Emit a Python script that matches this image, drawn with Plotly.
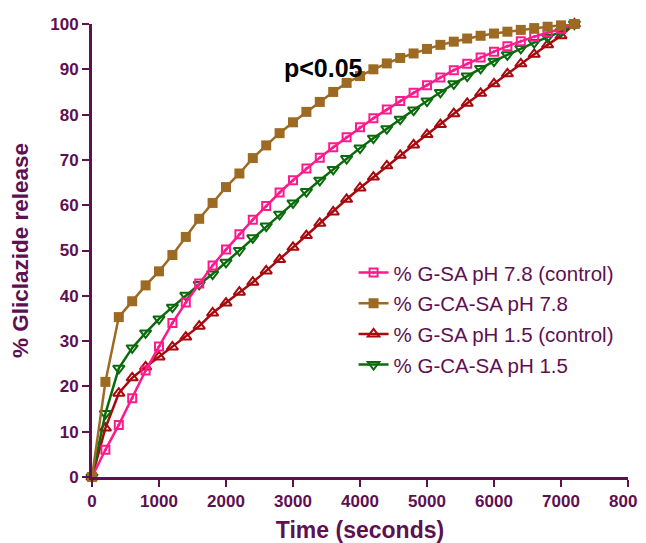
import plotly.graph_objects as go

time_s = [0, 200, 400, 600, 800, 1000, 1200, 1400, 1600, 1800, 2000, 2200, 2400, 2600,
          2800, 3000, 3200, 3400, 3600, 3800, 4000, 4200, 4400, 4600, 4800, 5000,
          5200, 5400, 5600, 5800, 6000, 6200, 6400, 6600, 6800, 7000, 7200]

g_sa_78 = [0, 6, 11.5, 17.4, 23.5, 28.8, 34, 38.5, 42.7, 46.7, 50.2, 53.6, 56.8, 59.8,
           62.8, 65.5, 68.1, 70.5, 72.8, 75, 77.2, 79.2, 81.1, 83, 84.8, 86.5,
           88.2, 89.8, 91.2, 92.6, 93.9, 95.1, 96.2, 97.2, 98.1, 98.9, 100]

g_ca_sa_78 = [0, 21, 35.3, 38.8, 42.3, 45.4, 49, 53, 57, 60.5, 64, 67, 70.4, 73.2,
              75.9, 78.3, 80.6, 82.8, 85, 87, 88.5, 90, 91.3, 92.5, 93.5, 94.5,
              95.4, 96.1, 96.8, 97.4, 97.9, 98.3, 98.7, 99.1, 99.4, 99.7, 100]

g_sa_15 = [0, 10.8, 18.5, 21.9, 24.3, 26.5, 28.7, 30.9, 33.3, 36.2, 38.4, 40.8, 43, 45.5,
           48, 50.7, 53.3, 56, 58.5, 61.3, 63.8, 66.2, 68.7, 71, 73.3, 75.6,
           77.8, 80.2, 82.5, 84.7, 86.8, 89, 91.2, 93.3, 95.4, 97.4, 100]

g_ca_sa_15 = [0, 14, 24, 28.5, 31.8, 34.9, 37.5, 40.1, 42.5, 44.8, 47.4, 50, 52.8, 55.4,
              58, 60.5, 63, 65.5, 67.9, 70.3, 72.6, 74.8, 76.9, 79, 81, 83,
              84.9, 86.8, 88.5, 90.2, 91.8, 93.2, 94.6, 95.9, 97.1, 98.3, 100]

names = ["% G-SA pH 7.8 (control)", "% G-CA-SA pH 7.8",
         "% G-SA pH 1.5 (control)", "% G-CA-SA pH 1.5"]

x_ticks = [0, 1000, 2000, 3000, 4000, 5000, 6000, 7000, 8000]
y_ticks = [0, 10, 20, 30, 40, 50, 60, 70, 80, 90, 100]

PURPLE = "#5E1050"
FONT = "Arial, Liberation Sans, sans-serif"

series = [
    (g_sa_78, names[0], "#FF1A8C", dict(symbol="square-open-dot", size=8, line=dict(width=2))),
    (g_ca_sa_78, names[1], "#9C6A22", dict(symbol="square", size=10, line=dict(width=0))),
    (g_sa_15, names[2], "#A8090E", dict(symbol="triangle-up-open", size=10, line=dict(width=2))),
    (g_ca_sa_15, names[3], "#0B6A0B", dict(symbol="triangle-down-open", size=10, line=dict(width=2))),
]

fig = go.Figure()
draw_order = [2, 3, 0, 1]
for idx in draw_order:
    vals, nm, col, mk = series[idx]
    mk = dict(mk)
    mk["color"] = col
    fig.add_trace(go.Scatter(
        x=time_s, y=vals, name=nm, mode="lines+markers",
        line=dict(color=col, width=2.5),
        marker=mk, cliponaxis=False,
        legendrank=idx + 1, legendgroup=str(idx),
    ))

fig.add_annotation(x=3450, y=90.3, text="<b>p<0.05</b>", showarrow=False,
                   font=dict(family=FONT, size=25, color="black"))

# the page body adds an 8px offset, so margins are shifted to compensate
fig.update_layout(
    width=646, height=543,
    margin=dict(l=84, r=26, t=16, b=74),
    paper_bgcolor="white", plot_bgcolor="white",
    font=dict(family=FONT, color=PURPLE),
    legend=dict(x=0.488, y=0.495, xanchor="left", yanchor="top",
                traceorder="grouped", tracegroupgap=1,
                font=dict(family=FONT, size=20.5, color=PURPLE),
                bgcolor="rgba(0,0,0,0)"),
    showlegend=True,
)
fig.update_xaxes(
    range=[0, 8000], tickvals=x_ticks, ticktext=["<b>%d</b>" % v for v in x_ticks],
    automargin=False,
    showgrid=False, zeroline=False, showline=True, linecolor=PURPLE, linewidth=3,
    ticks="outside", ticklen=7, tickwidth=2, tickcolor=PURPLE,
    tickfont=dict(family=FONT, size=17, color=PURPLE),
    title=dict(text="<b>Time (seconds)</b>", font=dict(family=FONT, size=23, color=PURPLE), standoff=12),
)
fig.update_yaxes(
    range=[0, 100], tickvals=y_ticks, ticktext=["<b>%d</b>" % v for v in y_ticks],
    automargin=False,
    showgrid=False, zeroline=False, showline=True, linecolor=PURPLE, linewidth=3,
    ticks="outside", ticklen=7, tickwidth=2, tickcolor=PURPLE,
    tickfont=dict(family=FONT, size=17, color=PURPLE),
    title=dict(text="<b>% Gliclazide release</b>", font=dict(family=FONT, size=22.5, color=PURPLE), standoff=18),
)

fig.write_html("out.html")
